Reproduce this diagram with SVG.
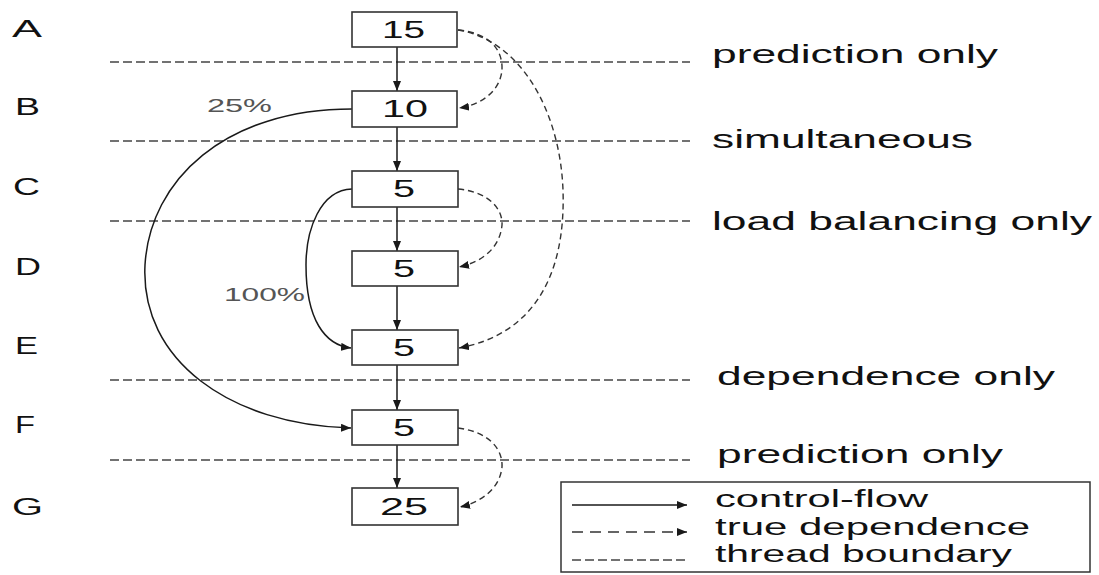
<svg xmlns="http://www.w3.org/2000/svg" width="1099" height="575" viewBox="0 0 1099 575">
<defs>
<style>
.box{fill:#fff;stroke:#333;stroke-width:1.6}
.t{font-family:"Liberation Sans",Arial,sans-serif;fill:#111}
.num{font-size:23px}
.lbl{font-size:23px}
.side{font-size:26px}
.leg{font-size:23px}
.pct{font-size:18px;fill:#555}
.cf{fill:none;stroke:#1a1a1a;stroke-width:1.5}
.dep{fill:none;stroke:#333;stroke-width:1.4;stroke-dasharray:6 4}
.tb{fill:none;stroke:#444;stroke-width:1.4;stroke-dasharray:9 4}
</style>
<marker id="ah" markerUnits="userSpaceOnUse" markerWidth="11" markerHeight="9" refX="10" refY="4" orient="auto">
<path d="M0,0 L10,4 L0,8 z" fill="#1a1a1a"/>
</marker>
</defs>
<rect width="1099" height="575" fill="#fff"/>

<g id="boundaries">
<line class="tb" x1="110" y1="62" x2="690" y2="62"/>
<line class="tb" x1="110" y1="141" x2="690" y2="141"/>
<line class="tb" x1="110" y1="221" x2="690" y2="221"/>
<line class="tb" x1="110" y1="380" x2="690" y2="380"/>
<line class="tb" x1="110" y1="460" x2="690" y2="460"/>
</g>

<g id="row-labels">
<text class="t lbl" x="12" y="37" textLength="30" lengthAdjust="spacingAndGlyphs">A</text>
<text class="t lbl" x="15" y="115" textLength="25" lengthAdjust="spacingAndGlyphs">B</text>
<text class="t lbl" x="13" y="195" textLength="27" lengthAdjust="spacingAndGlyphs">C</text>
<text class="t lbl" x="15" y="275" textLength="26" lengthAdjust="spacingAndGlyphs">D</text>
<text class="t lbl" x="15" y="354" textLength="23" lengthAdjust="spacingAndGlyphs">E</text>
<text class="t lbl" x="15" y="433" textLength="20" lengthAdjust="spacingAndGlyphs">F</text>
<text class="t lbl" x="12" y="515" textLength="31" lengthAdjust="spacingAndGlyphs">G</text>
</g>

<g id="boundary-labels">
<text class="t side" x="712" y="63" textLength="286" lengthAdjust="spacingAndGlyphs">prediction only</text>
<text class="t side" x="712" y="148" textLength="261" lengthAdjust="spacingAndGlyphs">simultaneous</text>
<text class="t side" x="712" y="230" textLength="380" lengthAdjust="spacingAndGlyphs">load balancing only</text>
<text class="t side" x="717" y="385" textLength="338" lengthAdjust="spacingAndGlyphs">dependence only</text>
<text class="t side" x="717" y="463" textLength="286" lengthAdjust="spacingAndGlyphs">prediction only</text>
</g>

<g id="connectors">
<line class="cf" x1="397" y1="47" x2="397" y2="91" marker-end="url(#ah)"/>
<line class="cf" x1="397" y1="127" x2="397" y2="171" marker-end="url(#ah)"/>
<line class="cf" x1="397" y1="207" x2="397" y2="251" marker-end="url(#ah)"/>
<line class="cf" x1="397" y1="286" x2="397" y2="330" marker-end="url(#ah)"/>
<line class="cf" x1="397" y1="365" x2="397" y2="410" marker-end="url(#ah)"/>
<line class="cf" x1="397" y1="445" x2="397" y2="488" marker-end="url(#ah)"/>
<path class="cf" d="M352,109 C225,109 150,180 145,265 C140,360 230,425 351,428" marker-end="url(#ah)"/>
<path class="cf" d="M352,189 C320,190 306,230 306,265 C306,320 325,345 351,348" marker-end="url(#ah)"/>
<path class="dep" d="M458,30 C490,33 503,50 502,70 C500,92 480,105 459,108" marker-end="url(#ah)"/>
<path class="dep" d="M458,30 C520,40 560,110 563,190 C566,280 530,335 459,348" marker-end="url(#ah)"/>
<path class="dep" d="M458,189 C490,192 503,210 502,225 C500,248 482,262 459,267" marker-end="url(#ah)"/>
<path class="dep" d="M458,428 C490,432 503,450 502,467 C500,488 482,502 460,507" marker-end="url(#ah)"/>
<text class="t pct" x="207" y="112" textLength="65" lengthAdjust="spacingAndGlyphs">25%</text>
<text class="t pct" x="224" y="301" textLength="81" lengthAdjust="spacingAndGlyphs">100%</text>
</g>

<g id="node-A"><rect class="box" x="352" y="12" width="105" height="35"/><text class="t num" x="382" y="38" textLength="43" lengthAdjust="spacingAndGlyphs">15</text></g>
<g id="node-B"><rect class="box" x="352" y="91" width="105" height="36"/><text class="t num" x="382" y="117" textLength="46" lengthAdjust="spacingAndGlyphs">10</text></g>
<g id="node-C"><rect class="box" x="352" y="171" width="106" height="36"/><text class="t num" x="393" y="197" textLength="22" lengthAdjust="spacingAndGlyphs">5</text></g>
<g id="node-D"><rect class="box" x="352" y="251" width="106" height="35"/><text class="t num" x="393" y="277" textLength="22" lengthAdjust="spacingAndGlyphs">5</text></g>
<g id="node-E"><rect class="box" x="352" y="330" width="106" height="35"/><text class="t num" x="393" y="356" textLength="22" lengthAdjust="spacingAndGlyphs">5</text></g>
<g id="node-F"><rect class="box" x="352" y="410" width="106" height="35"/><text class="t num" x="393" y="436" textLength="22" lengthAdjust="spacingAndGlyphs">5</text></g>
<g id="node-G"><rect class="box" x="352" y="488" width="106" height="37"/><text class="t num" x="380" y="515" textLength="48" lengthAdjust="spacingAndGlyphs">25</text></g>

<g id="legend">
<rect x="561" y="482" width="529" height="90" fill="#fff" stroke="#333" stroke-width="1.5"/>
<line class="cf" x1="572" y1="505" x2="687" y2="505" marker-end="url(#ah)"/>
<line x1="572" y1="532" x2="687" y2="532" fill="none" stroke="#333" stroke-width="1.4" stroke-dasharray="11 7" marker-end="url(#ah)"/>
<line class="tb" x1="572" y1="560" x2="687" y2="560" stroke-dasharray="8 4"/>
<text class="t leg" x="715" y="507" textLength="213" lengthAdjust="spacingAndGlyphs">control-flow</text>
<text class="t leg" x="715" y="535" textLength="315" lengthAdjust="spacingAndGlyphs">true dependence</text>
<text class="t leg" x="715" y="562" textLength="297" lengthAdjust="spacingAndGlyphs">thread boundary</text>
</g>
</svg>
